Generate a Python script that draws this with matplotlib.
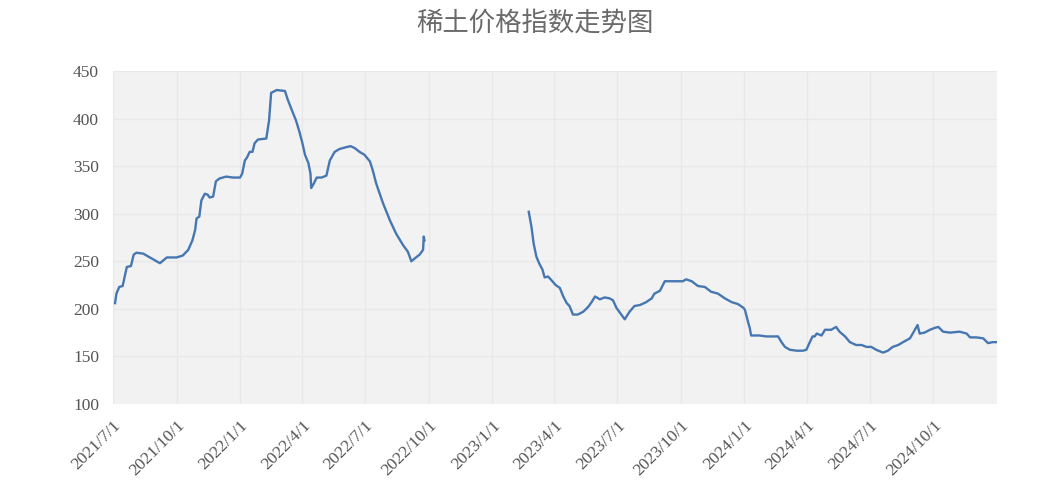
import matplotlib
matplotlib.use("Agg")
import matplotlib.pyplot as plt
import matplotlib.dates as mdates
import pandas as pd
import numpy as np

title = "稀土价格指数走势图"

dates_a = ["2021-07-04","2021-07-06","2021-07-10","2021-07-15","2021-07-21","2021-07-27","2021-07-31",
           "2021-08-04","2021-08-14","2021-08-21","2021-08-26","2021-09-02","2021-09-07","2021-09-17",
           "2021-10-01","2021-10-10","2021-10-18","2021-10-24","2021-10-28","2021-10-30","2021-11-03",
           "2021-11-06","2021-11-11","2021-11-15","2021-11-18","2021-11-23","2021-11-27","2021-12-02",
           "2021-12-12","2021-12-22","2022-01-01","2022-01-04","2022-01-08","2022-01-11","2022-01-15",
           "2022-01-19","2022-01-22","2022-01-27","2022-02-08","2022-02-12","2022-02-15","2022-02-23",
           "2022-03-07","2022-03-11","2022-03-18","2022-03-23","2022-03-28","2022-04-01","2022-04-05",
           "2022-04-10","2022-04-13","2022-04-14","2022-04-18","2022-04-22","2022-04-29","2022-05-06",
           "2022-05-11","2022-05-18","2022-05-25","2022-06-04","2022-06-10","2022-06-16","2022-06-23",
           "2022-06-30","2022-07-08","2022-07-12","2022-07-17","2022-07-27","2022-08-06","2022-08-15",
           "2022-08-25","2022-09-01","2022-09-06","2022-09-11","2022-09-18","2022-09-23","2022-09-24",
           "2022-09-25"]
values_a = [206,216,223,224,244,245,257,
            259,258,255,253,250,248,254,
            254,256,262,272,283,295,297,
            314,321,320,317,318,334,337,
            339,338,338,342,356,359,365,
            365,374,378,379,398,427,430,
            429,420,407,398,386,375,362,
            353,342,327,332,338,338,340,
            356,365,368,370,371,369,365,
            362,355,346,332,311,293,279,
            267,260,250,253,257,262,276,
            272]

dates_b = ["2023-02-23","2023-02-27","2023-03-02","2023-03-06","2023-03-10","2023-03-15","2023-03-18",
           "2023-03-23","2023-03-28","2023-04-03","2023-04-09","2023-04-14","2023-04-19","2023-04-23",
           "2023-04-28","2023-05-05","2023-05-13","2023-05-20","2023-05-25","2023-05-30","2023-06-06",
           "2023-06-13","2023-06-20","2023-06-25","2023-06-30","2023-07-07","2023-07-12","2023-07-19",
           "2023-07-26","2023-08-03","2023-08-12","2023-08-20","2023-08-24","2023-09-01","2023-09-08",
           "2023-09-15","2023-09-27","2023-10-04","2023-10-09","2023-10-17","2023-10-26","2023-11-05",
           "2023-11-14","2023-11-24","2023-12-04","2023-12-14","2023-12-23","2023-12-31","2024-01-02",
           "2024-01-07","2024-01-09","2024-01-11","2024-01-23","2024-02-02","2024-02-19","2024-02-24",
           "2024-02-29","2024-03-07","2024-03-17","2024-03-26","2024-03-31","2024-04-05","2024-04-09",
           "2024-04-12","2024-04-15","2024-04-22","2024-04-27","2024-05-06","2024-05-13","2024-05-18",
           "2024-05-26","2024-06-02","2024-06-11","2024-06-19","2024-06-26","2024-07-03","2024-07-10",
           "2024-07-20","2024-07-27","2024-08-03","2024-08-11","2024-08-18","2024-08-28","2024-09-01",
           "2024-09-08","2024-09-11","2024-09-18","2024-09-26","2024-10-03","2024-10-08","2024-10-15",
           "2024-10-25","2024-11-08","2024-11-18","2024-11-23","2024-12-02","2024-12-12","2024-12-19",
           "2024-12-26","2024-12-31"]
values_b = [302,286,269,255,248,241,233,
            234,230,225,222,213,206,203,
            194,194,197,202,207,213,210,
            212,211,209,201,194,189,197,
            203,204,207,211,216,219,229,
            229,229,229,231,229,224,223,
            218,216,211,207,205,201,199,
            185,180,172,172,171,171,165,
            160,157,156,156,157,165,171,
            171,174,172,178,178,181,176,
            171,165,162,162,160,160,157,
            154,156,160,162,165,169,174,
            183,174,175,178,180,181,176,
            175,176,174,170,170,169,164,
            165,165]

tick_labels = ["2021/7/1","2021/10/1","2022/1/1","2022/4/1","2022/7/1","2022/10/1","2023/1/1",
               "2023/4/1","2023/7/1","2023/10/1","2024/1/1","2024/4/1","2024/7/1","2024/10/1"]
y_ticks = [100,150,200,250,300,350,400,450]

fig = plt.figure(figsize=(10.51, 4.92), dpi=100)
ax = fig.add_axes([0.1075, 0.1789, 0.8411, 0.6768])
ax.set_facecolor("#f2f2f2")

line_color = "#4677b1"
ax.plot(pd.to_datetime(dates_a), values_a, color=line_color, lw=1.7, solid_joinstyle="round")
ax.plot(pd.to_datetime(dates_b), values_b, color=line_color, lw=1.7, solid_joinstyle="round")

ax.set_xlim(pd.Timestamp("2021-07-01"), pd.Timestamp("2025-01-01"))
ax.set_ylim(100, 450)
ax.set_yticks(y_ticks)
ax.set_yticklabels([str(v) for v in y_ticks])
tick_pos = pd.to_datetime([t.replace("/", "-") for t in tick_labels], format="%Y-%m-%d")
ax.set_xticks(tick_pos)
ax.set_xticklabels(tick_labels, rotation=45, ha="right", va="top", rotation_mode="anchor")

for s in ax.spines.values():
    s.set_visible(False)
ax.tick_params(axis="both", length=0, colors="#555555", labelsize=12.5)
ax.tick_params(axis="y", pad=10)
ax.tick_params(axis="x", pad=10)
for lab in ax.get_xticklabels() + ax.get_yticklabels():
    lab.set_family("Liberation Serif")
ax.grid(True, color="#e8e8e8", lw=0.9)
ax.set_axisbelow(True)

fig.text(0.509, 0.953, title, ha="center", va="center", fontsize=19, color="#6a6a6a",
         family=["Noto Sans CJK SC", "DejaVu Sans"])

fig.savefig("out.png", dpi=100)
